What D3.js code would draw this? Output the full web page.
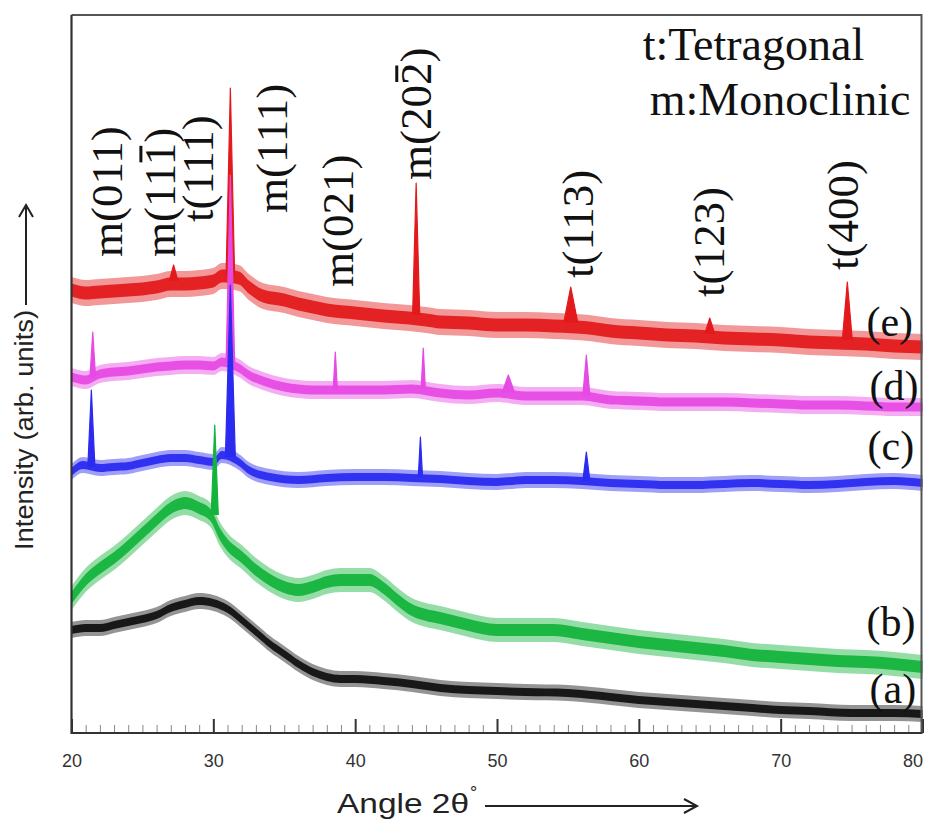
<!DOCTYPE html>
<html>
<head>
<meta charset="utf-8">
<script src="https://cdn.jsdelivr.net/npm/d3@7"></script>
<style>
  html, body { margin: 0; padding: 0; background: #fff; }
  svg { display: block; }
</style>
</head>
<body>
<div id="chart"></div>
<script>
// ---- data (intensity in arbitrary units) ----
const xTicks = [20, 30, 40, 50, 60, 70, 80];

// (a) black
const angleA = [20,21,22,23,24,25,26,27,28,29,30,31,32,33,34,35,36,37,38,39,40,42,44,46,48,50,52,55,58,60,62,65,68,70,72,75,78,80];
const intensityA = [103,105,105,108,111,114,118,125,129,132,130,124,113,101,89,79,69,61,56,54,54,52,49,45,43,42,41,40,36,33,31,28,25,23,22,20,20,19];
const noiseA = 8;
const peaksA = [];

// (b) green
const angleB = [20,21,22,23,24,25,26,27,28,29,29.8,30.5,31,32,33,34,35,36,37,38,39,40,41,42,43,44,45,46,48,50,52,54,56,58,60,62,64,66,68,70,72,74,76,78,80];
const intensityB = [135,153,165,175,187,200,213,225,230,225,218,198,188,176,163,153,146,143,146,151,153,153,153,145,133,123,118,115,108,103,103,103,99,95,91,88,85,82,78,76,74,72,71,69,66];
const noiseB = 12;
const peaksB = [{ at: 30.1, base: 218, top: 308, w: 0.25 }];

// (c) blue
const angleC = [20,20.8,22,23,24,25,26,27,28,29,30,30.6,31.8,32.5,34,36,38,40,42,44,46,48,50,52,54,56,58,60,62,64,66,68,70,72,74,76,78,80];
const intensityC = [261,268,265,266,267,270,273,275,275,273,271,278,271,263,256,253,255,256,256,255,254,252,251,253,253,252,250,249,248,248,249,250,249,248,249,251,252,250];
const noiseC = 8;
const peaksC = [
  { at: 21.4, base: 266, top: 343, w: 0.25 },
  { at: 31.2, base: 276, top: 448, w: 0.35 },
  { at: 44.6, base: 256, top: 296, w: 0.15 },
  { at: 56.3, base: 252, top: 281, w: 0.25 }
];

// (d) magenta
const angleD = [20,21,22,23,24,25,26,27,28,29,30,30.6,31.8,32.5,33.5,35,36,37,38,39,40,42,44,46,48,50,52,54,56,58,60,62,64,66,68,70,72,74,76,78,80];
const intensityD = [356,353,359,361,362,364,366,367,368,368,367,371,365,358,352,346,344,343,343,343,343,343,344,340,338,340,337,337,337,333,332,331,331,331,330,329,328,328,327,326,326];
const noiseD = 9;
const peaksD = [
  { at: 21.5, base: 355, top: 401, w: 0.2 },
  { at: 31.2, base: 370, top: 558, w: 0.3 },
  { at: 38.6, base: 343, top: 381, w: 0.15 },
  { at: 44.8, base: 344, top: 385, w: 0.15 },
  { at: 50.8, base: 340, top: 358, w: 0.45 },
  { at: 56.3, base: 337, top: 378, w: 0.25 }
];

// (e) red
const angleE = [20,21,22,23,24,25,26,27,28,29,30,30.6,31.8,32.5,33.5,35,36,37,38,40,42,43.8,45,46,48,50,52,54,56.5,58,60,62,64,66,68,70,72,74,76,78,80];
const intensityE = [443,440,441,442,443,444,446,449,449,450,452,457,455,446,437,433,429,426,423,420,417,415,413,411,410,408,408,407,405,402,400,398,397,395,394,393,391,390,389,387,386];
const noiseE = 13;
const peaksE = [
  { at: 27.2, base: 452, top: 468, w: 0.3 },
  { at: 31.2, base: 458, top: 645, w: 0.3 },
  { at: 44.3, base: 418, top: 550, w: 0.25 },
  { at: 55.2, base: 410, top: 446, w: 0.5 },
  { at: 65.0, base: 399, top: 415, w: 0.35 },
  { at: 74.7, base: 393, top: 451, w: 0.35 }
];

// reflection labels (baseline angle, bottom of rotated text in intensity units)
const peakLabels = [
  { text: "m(011)", at: 23.56, y: 476 },
  { text: "m(111)", at: 27.29, y: 476, bar: 4 },
  { text: "t(111)", at: 29.97, y: 511 },
  { text: "m(111)", at: 35.19, y: 520 },
  { text: "m(021)", at: 39.84, y: 446 },
  { text: "m(202)", at: 45.33, y: 553, bar: 4 },
  { text: "t(113)", at: 56.75, y: 455 },
  { text: "t(123)", at: 65.98, y: 436 },
  { text: "t(400)", at: 75.43, y: 463 }
];
const sampleLabels = [
  { text: "(e)", at: 76.05, y: 397 },
  { text: "(d)", at: 76.27, y: 333 },
  { text: "(c)", at: 76.13, y: 273 },
  { text: "(b)", at: 76.05, y: 97 },
  { text: "(a)", at: 76.27, y: 30 }
];
const phaseLegend = [
  { text: "t:Tetragonal", at: 60.27, y: 673 },
  { text: "m:Monoclinic", at: 60.77, y: 618 }
];

// ---- setup ----
const W = 925, H = 821;
const margin = { top: 15, right: 2.5, bottom: 88, left: 71.5 };
const serif = "'Liberation Serif', 'Times New Roman', serif";
const sans = "'Liberation Sans', Arial, Helvetica, sans-serif";

const svg = d3.select("#chart").append("svg").attr("width", W).attr("height", H);
svg.append("rect").attr("width", W).attr("height", H).attr("fill", "#fff");

const x = d3.scaleLinear().domain([20, 80]).range([margin.left, W - margin.right]);
const y = d3.scaleLinear().domain([0, 718]).range([H - margin.bottom, margin.top]);

// series drawn back to front (red first, black on top)
const series = [
  { angles: angleE, values: intensityE, noise: noiseE, peaks: peaksE, color: "#e31a1c" },
  { angles: angleD, values: intensityD, noise: noiseD, peaks: peaksD, color: "#e64ae4" },
  { angles: angleC, values: intensityC, noise: noiseC, peaks: peaksC, color: "#2b2bf0" },
  { angles: angleB, values: intensityB, noise: noiseB, peaks: peaksB, color: "#14b43c" },
  { angles: angleA, values: intensityA, noise: noiseA, peaks: peaksA, color: "#111111" }
];

// ---- traces ----
const traces = svg.append("g").attr("class", "traces");
series.forEach((s) => {
  const pts = s.angles.map((a, i) => ({ a, v: s.values[i] }));
  const g = traces.append("g");

  // noisy band: faint outer fuzz + solid core
  const band = (k) =>
    d3.area()
      .x((d) => x(d.a))
      .y0((d) => y(d.v - s.noise * k))
      .y1((d) => y(d.v + s.noise * k))
      .curve(d3.curveMonotoneX);
  g.append("path").attr("d", band(1)(pts)).attr("fill", s.color).attr("fill-opacity", 0.45);
  g.append("path").attr("d", band(0.5)(pts)).attr("fill", s.color).attr("fill-opacity", 0.95);

  // diffraction peaks
  const tri = d3.line().x((d) => x(d[0])).y((d) => y(d[1]));
  g.selectAll("path.peak")
    .data(s.peaks)
    .join("path")
    .attr("class", "peak")
    .attr("d", (p) => tri([[p.at - p.w, p.base], [p.at, p.top], [p.at + p.w, p.base]]))
    .attr("fill", s.color)
    .attr("stroke", s.color)
    .attr("stroke-width", 1.2)
    .attr("stroke-linejoin", "round");
});

// ---- axes & frame ----
const yBottom = H - margin.bottom;
svg.append("g")
  .attr("transform", `translate(0,${yBottom})`)
  .call(d3.axisBottom(x).tickValues(d3.range(21, 80).filter((v) => v % 10 !== 0)).tickSize(-8).tickFormat(""))
  .call((g) => g.select(".domain").remove())
  .call((g) => g.selectAll("line").attr("stroke", "#888").attr("stroke-width", 1));

svg.append("g")
  .attr("transform", `translate(0,${yBottom})`)
  .call(d3.axisBottom(x).tickValues(xTicks).tickSize(-14).tickPadding(21))
  .call((g) => g.select(".domain").remove())
  .call((g) => g.selectAll("line").attr("stroke", "#333").attr("stroke-width", 2))
  .call((g) => g.selectAll("text").attr("font-family", sans).attr("font-size", 18).attr("fill", "#333"))
  .call((g) => g.selectAll("text").filter((d) => d === 80).attr("dx", -10));

// top/right frame lighter, left/bottom axes dark
svg.append("path")
  .attr("d", `M${x(20)},${y(718)}H${x(80) - 1}V${yBottom}`)
  .attr("fill", "none").attr("stroke", "#555").attr("stroke-width", 2);
svg.append("path")
  .attr("d", `M${x(20)},${y(718)}V${yBottom}H${x(80)}`)
  .attr("fill", "none").attr("stroke", "#333").attr("stroke-width", 2.2);

// ---- peak labels ----
const labelG = svg.append("g").attr("class", "peak-labels");
peakLabels.forEach((l) => {
  const g = labelG.append("g").attr("transform", `translate(${x(l.at)},${y(l.y)}) rotate(-90)`);
  const t = g.append("text")
    .attr("font-family", serif)
    .attr("font-size", 45)
    .attr("fill", "#111")
    .text(l.text);
  if (l.bar !== undefined) {
    const box = t.node().getExtentOfChar(l.bar);
    g.append("line")
      .attr("x1", box.x + 3).attr("x2", box.x + box.width - 3)
      .attr("y1", box.y + 6).attr("y2", box.y + 6)
      .attr("stroke", "#111").attr("stroke-width", 3);
  }
});

// ---- sample labels ----
svg.append("g")
  .selectAll("text")
  .data(sampleLabels)
  .join("text")
  .attr("x", (d) => x(d.at))
  .attr("y", (d) => y(d.y))
  .attr("font-family", serif)
  .attr("font-size", 42)
  .attr("fill", "#111")
  .text((d) => d.text);

// ---- phase legend ----
svg.append("g")
  .selectAll("text")
  .data(phaseLegend)
  .join("text")
  .attr("x", (d) => x(d.at))
  .attr("y", (d) => y(d.y))
  .attr("font-family", serif)
  .attr("font-size", 46)
  .attr("fill", "#111")
  .text((d) => d.text);

// ---- axis titles with arrows ----
svg.append("text")
  .attr("x", 337).attr("y", 813)
  .attr("font-family", sans).attr("font-size", 27).attr("fill", "#222")
  .attr("textLength", 132).attr("lengthAdjust", "spacingAndGlyphs")
  .text("Angle 2θ");
svg.append("text")
  .attr("x", 470).attr("y", 799)
  .attr("font-family", sans).attr("font-size", 18).attr("fill", "#222")
  .text("°");
svg.append("path")
  .attr("d", "M485,806H697M684,799L697,806L684,813")
  .attr("fill", "none").attr("stroke", "#222").attr("stroke-width", 2);

svg.append("text")
  .attr("transform", "translate(33,550) rotate(-90)")
  .attr("font-family", sans).attr("font-size", 26).attr("fill", "#222")
  .attr("textLength", 240).attr("lengthAdjust", "spacingAndGlyphs")
  .text("Intensity (arb. units)");
svg.append("path")
  .attr("d", "M26,305V205M19,217L26,205L33,217")
  .attr("fill", "none").attr("stroke", "#222").attr("stroke-width", 2);
</script>
</body>
</html>
